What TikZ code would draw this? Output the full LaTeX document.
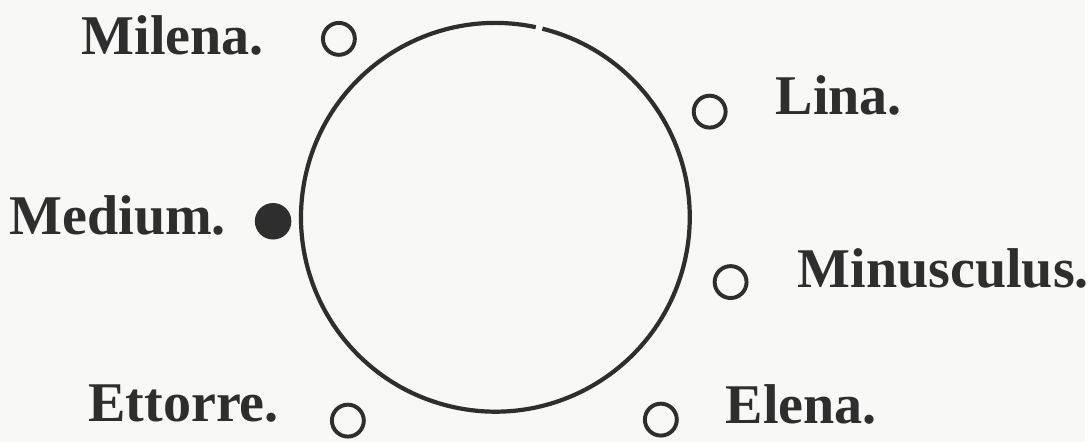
\documentclass[tikz,border=0pt]{standalone}
\usepackage{fontspec}
\setmainfont{Liberation Serif}
\definecolor{ink}{HTML}{2E2E2E}
\definecolor{paper}{HTML}{F8F8F7}
\begin{document}
\begin{tikzpicture}[x=0.025cm, y=0.025cm,
    ring/.style={circle, draw=ink, line width=2.8pt, minimum size=0.8cm, inner sep=0pt},
    medium dot/.style={circle, fill=ink, draw=ink, line width=1pt, minimum size=0.88cm, inner sep=0pt},
    name label/.style={text=ink, inner sep=0pt, font=\bfseries\fontsize{40}{48}\selectfont}]
    % paper
    \fill[paper] (0,0) rectangle (1089,443);
    % the big circle, open at the top
    \coordinate (centre) at (497,225);
    \draw[ink, line width=3pt] (centre) ++(78:195) arc[start angle=78, end angle=436, radius=195];
    % the six places
    \node[ring] (milena dot) at (340,404) {};
    \node[ring] (lina dot) at (712,331) {};
    \node[medium dot] (medium dot) at (274,221) {};
    \node[ring] (minusculus dot) at (733,160) {};
    \node[ring] (ettorre dot) at (349,21) {};
    \node[ring] (elena dot) at (663,22) {};
    % names
    \node[name label, anchor=base east] (milena) at (265,388) {Milena.};
    \node[name label, anchor=base west] (lina) at (778,328) {Lina.};
    \node[name label, anchor=base east] (medium) at (227,208) {Medium.};
    \node[name label, anchor=base west] (minusculus) at (800,155) {Minusculus.};
    \node[name label, anchor=base east] (ettorre) at (280,20) {Ettorre.};
    \node[name label, anchor=base west] (elena) at (728,18) {Elena.};
\end{tikzpicture}
\end{document}
